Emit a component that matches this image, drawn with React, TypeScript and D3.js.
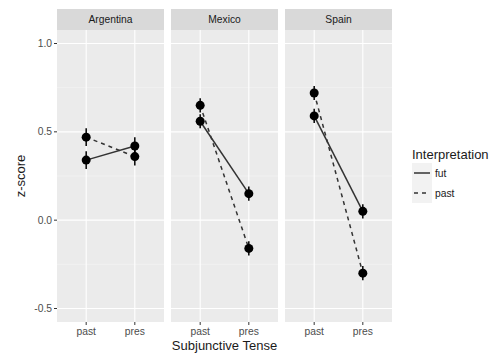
import React from "react";
import * as d3 from "d3";

const countries = ["Argentina", "Mexico", "Spain"];
const tenses = ["past", "pres"];
const interpretations = ["fut", "past"];
// means per country, [past, pres]
const futMeans = [[0.34, 0.42], [0.56, 0.15], [0.59, 0.05]];
const pastMeans = [[0.47, 0.36], [0.65, -0.16], [0.72, -0.30]];
const futErr = [[0.05, 0.05], [0.04, 0.04], [0.04, 0.04]];
const pastErr = [[0.05, 0.05], [0.04, 0.04], [0.04, 0.04]];
const yTicks = [-0.5, 0, 0.5, 1.0];
const yMinor = [-0.25, 0.25, 0.75];

const W = 502, H = 355;
const left = 57, panelW = 107, gap = 7;
const top = 30, bottom = 322, stripTop = 9;
const font = "'Liberation Sans', Arial, sans-serif";

export default function App() {
  const y = d3.scaleLinear().domain([-0.5, 1.0]).range([308.5, 43.5]);
  const x = d3.scalePoint().domain(tenses).range([0, panelW]).padding(0.6);
  const line = d3.line<[string, number]>().x(d => x(d[0])!).y(d => y(d[1]));

  const series = [
    { key: "fut", means: futMeans, err: futErr, dash: "none" },
    { key: "past", means: pastMeans, err: pastErr, dash: "4,4" },
  ];

  return (
    <svg width={W} height={H} style={{ position: "absolute", left: 0, top: 0 }} fontFamily={font}>
      <rect width={W} height={H} fill="white" />
      {countries.map((c, ci) => {
        const px = left + ci * (panelW + gap);
        return (
          <g key={c} transform={`translate(${px},0)`}>
            <rect x={0} y={stripTop} width={panelW} height={top - stripTop} fill="#d9d9d9" />
            <text x={panelW / 2} y={(stripTop + top) / 2 + 3.5} textAnchor="middle" fontSize={10.3} fill="#1a1a1a">{c}</text>
            <rect x={0} y={top} width={panelW} height={bottom - top} fill="#ebebeb" />
            {yMinor.map(t => (
              <line key={"m" + t} x1={0} x2={panelW} y1={y(t)} y2={y(t)} stroke="#f5f5f5" strokeWidth={0.6} />
            ))}
            {yTicks.map(t => (
              <line key={"g" + t} x1={0} x2={panelW} y1={y(t)} y2={y(t)} stroke="white" strokeWidth={1.1} />
            ))}
            {tenses.map(t => (
              <g key={t}>
                <line x1={x(t)} x2={x(t)} y1={top} y2={bottom} stroke="white" strokeWidth={1.1} />
                <line x1={x(t)} x2={x(t)} y1={bottom} y2={bottom + 3} stroke="#333" strokeWidth={1} />
                <text x={x(t)} y={bottom + 13} textAnchor="middle" fontSize={10.3} fill="#4d4d4d">{t}</text>
              </g>
            ))}
            {series.map(s => {
              const pts: [string, number][] = tenses.map((t, ti) => [t, s.means[ci][ti]]);
              return (
                <g key={s.key}>
                  <path d={line(pts)!} fill="none" stroke="#333" strokeWidth={1.5} strokeDasharray={s.dash} />
                  {tenses.map((t, ti) => (
                    <g key={t}>
                      <line x1={x(t)} x2={x(t)} y1={y(s.means[ci][ti] + s.err[ci][ti])} y2={y(s.means[ci][ti] - s.err[ci][ti])} stroke="black" strokeWidth={1.5} />
                      <circle cx={x(t)} cy={y(s.means[ci][ti])} r={4.5} fill="black" />
                    </g>
                  ))}
                </g>
              );
            })}
          </g>
        );
      })}
      {yTicks.map(t => (
        <g key={t}>
          <line x1={left - 3} x2={left} y1={y(t)} y2={y(t)} stroke="#333" strokeWidth={1} />
          <text x={left - 5} y={y(t) + 3.5} textAnchor="end" fontSize={10.3} fill="#4d4d4d">{t.toFixed(1)}</text>
        </g>
      ))}
      <text transform={`translate(25,${(top + bottom) / 2}) rotate(-90)`} textAnchor="middle" fontSize={13} fill="#1a1a1a">z-score</text>
      <text x={left + (3 * panelW + 2 * gap) / 2} y={350} textAnchor="middle" fontSize={13} fill="#1a1a1a">Subjunctive Tense</text>
      <text x={412} y={159} fontSize={13} fill="#1a1a1a">Interpretation</text>
      {interpretations.map((k, i) => {
        const ky = 163 + i * 20;
        return (
          <g key={k}>
            <rect x={412} y={ky} width={20} height={20} fill="#f2f2f2" />
            <line x1={414} x2={430} y1={ky + 10} y2={ky + 10} stroke="#333" strokeWidth={1.5} strokeDasharray={k === "past" ? "4,4" : "none"} />
            <text x={435} y={ky + 13.5} fontSize={10.3} fill="#1a1a1a">{k}</text>
          </g>
        );
      })}
    </svg>
  );
}
